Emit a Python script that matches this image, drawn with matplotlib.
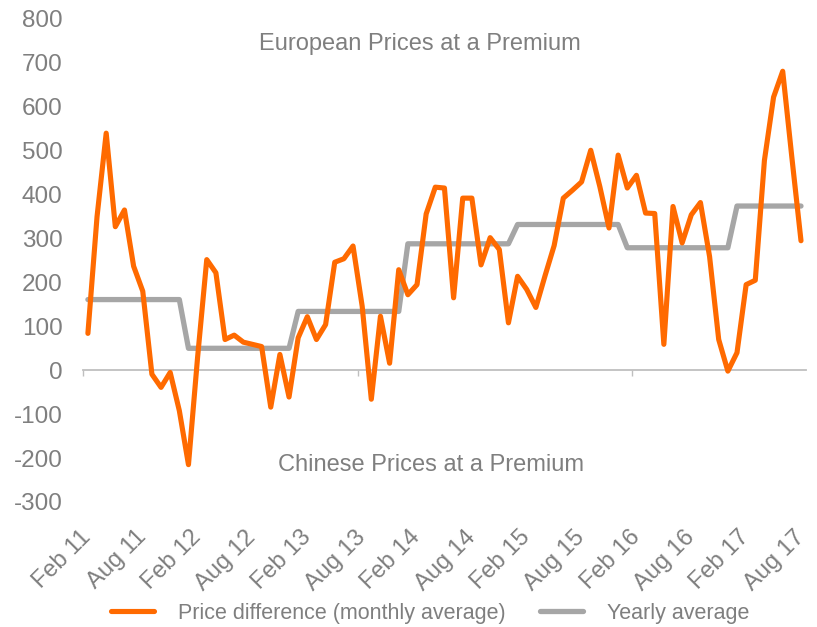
import matplotlib
matplotlib.use("Agg")
import matplotlib.pyplot as plt

plt.rcParams['font.family'] = ['Liberation Sans', 'DejaVu Sans']
plt.rcParams['axes.unicode_minus'] = False

# monthly data, Feb 2011 .. Aug 2017
n_months = 79
month_names = ["Jan", "Feb", "Mar", "Apr", "May", "Jun", "Jul", "Aug", "Sep", "Oct", "Nov", "Dec"]

price_diff = [
    84, 350, 540, 327, 365, 237, 180, -9, -39, -5, -92,           # 2011
    -215, 30, 252, 222, 70, 80, 64, 59, 54, -84, 36, -61,         # 2012
    74, 122, 70, 104, 246, 254, 283, 146, -66, 123, 16, 229,      # 2013
    172, 195, 356, 417, 415, 165, 392, 392, 240, 302, 275, 108,   # 2014
    214, 184, 143, 215, 284, 392, 410, 429, 501, 418, 324, 490,   # 2015
    415, 444, 358, 357, 59, 373, 290, 354, 382, 259, 70, -2,      # 2016
    40, 195, 205, 478, 622, 681, 485, 295,                        # 2017
]

# yearly average per calendar year
year_avg = {2011: 161, 2012: 50, 2013: 134, 2014: 288, 2015: 332, 2016: 279, 2017: 374}

labels = []
yearly = []
for i in range(n_months):
    m = (1 + i) % 12  # 0 = Jan
    yr = 2011 + (1 + i) // 12
    labels.append(month_names[m] + " " + str(yr % 100))
    yearly.append(year_avg[yr])

x = list(range(n_months))

orange = "#FF6A00"
grey_line = "#A6A6A6"
text_grey = "#7F7F7F"

fig = plt.figure(figsize=(8.17, 6.27), dpi=100)
ax = fig.add_axes([0.102, 0.1994, 0.884, 0.7703])

ax.plot(x, price_diff, color=orange, lw=3.7, solid_joinstyle='round',
        solid_capstyle='round', label="Price difference (monthly average)", zorder=3)
ax.plot(x, yearly, color=grey_line, lw=3.8, solid_joinstyle='round',
        solid_capstyle='round', label="Yearly average", zorder=2)

ax.set_xlim(-0.5, n_months - 0.5)
ax.set_ylim(-300, 800)
ax.set_yticks(range(-300, 801, 100))
ax.tick_params(axis='y', length=0, pad=15, labelsize=17.5, labelcolor=text_grey)

for s in ['left', 'right', 'top']:
    ax.spines[s].set_visible(False)
ax.spines['bottom'].set_position(('data', 0))
ax.spines['bottom'].set_color("#BFBFBF")
ax.spines['bottom'].set_linewidth(1.3)
ax.set_xticks([-0.5, 29.5, 59.5])
ax.set_xticklabels([])
ax.tick_params(axis='x', length=4, width=1, color="#BFBFBF", direction='out')

# category labels at the bottom
sec = ax.secondary_xaxis('bottom')
sec.spines['bottom'].set_visible(False)
sec.set_xticks(x[::6])
sec.set_xticklabels(labels[::6], rotation=45, ha='right', va='center',
                    rotation_mode='anchor', fontsize=17, color=text_grey)
sec.tick_params(length=0, pad=23)

ax.text(36.3, 744, "European Prices at a Premium", ha='center', va='center',
        fontsize=17, color=text_grey)
ax.text(37.5, -215, "Chinese Prices at a Premium", ha='center', va='center',
        fontsize=17, color=text_grey)

fig.legend(loc='center', bbox_to_anchor=(430 / 817, 1 - 613 / 627), ncol=2,
           frameon=False, fontsize=15.5, labelcolor=text_grey,
           handlelength=2.0, handletextpad=1.1, columnspacing=1.6)

fig.savefig("out.png", dpi=100)
